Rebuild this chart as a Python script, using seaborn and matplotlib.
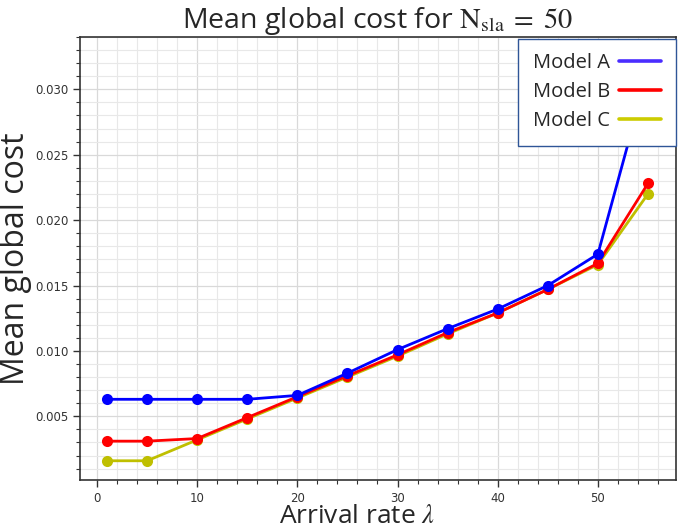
import pandas as pd
import matplotlib
matplotlib.use('Agg')
import matplotlib.pyplot as plt
import seaborn as sns
from matplotlib.lines import Line2D
from matplotlib.ticker import MultipleLocator

# Data
arrival = [1, 5, 10, 15, 20, 25, 30, 35, 40, 45, 50, 55]
model_a = [0.0063, 0.0063, 0.0063, 0.0063, 0.0066, 0.0083, 0.0101, 0.0117, 0.0132, 0.0150, 0.0174, 0.0314]
model_b = [0.0031, 0.0031, 0.0033, 0.0049, 0.0065, 0.0081, 0.0097, 0.0114, 0.0129, 0.0147, 0.0167, 0.0228]
model_c = [0.0016, 0.0016, 0.0032, 0.0048, 0.0064, 0.0080, 0.0096, 0.0113, 0.0129, 0.0147, 0.0166, 0.0220]
models = ['Model A', 'Model B', 'Model C']

df = pd.concat([
    pd.DataFrame({'rate': arrival, 'cost': model_a, 'model': 'Model A'}),
    pd.DataFrame({'rate': arrival, 'cost': model_b, 'model': 'Model B'}),
    pd.DataFrame({'rate': arrival, 'cost': model_c, 'model': 'Model C'}),
])

line_colors = {'Model A': '#0000ff', 'Model B': '#ff0000', 'Model C': '#bfbf00'}
legend_colors = {'Model A': '#4a2dff', 'Model B': '#ff0000', 'Model C': '#cccc00'}

sns.set_style('white')
plt.rcParams['font.family'] = ['Open Sans', 'DejaVu Sans']
plt.rcParams['mathtext.fontset'] = 'stix'

fig = plt.figure(figsize=(6.79, 5.30), dpi=100)
ax = fig.add_axes([80 / 679, 1 - 480 / 530, 596 / 679, 443 / 530])

# draw C first so A ends up on top
sns.lineplot(data=df, x='rate', y='cost', hue='model', hue_order=['Model C', 'Model B', 'Model A'],
             palette=line_colors, marker='o', markersize=8, markeredgewidth=0,
             linewidth=2, legend=False, ax=ax)

ax.set_xlim(-1.7, 57.8)
ax.set_ylim(0.00013, 0.0340)
ax.xaxis.set_major_locator(MultipleLocator(10))
ax.xaxis.set_minor_locator(MultipleLocator(2))
ax.yaxis.set_major_locator(MultipleLocator(0.005))
ax.yaxis.set_minor_locator(MultipleLocator(0.001))
ax.grid(which='major', color='#d9d9d9', linewidth=0.9)
ax.grid(which='minor', color='#e8e8e8', linewidth=0.8)
ax.set_axisbelow(True)

for s in ax.spines.values():
    s.set_color('#333333')
    s.set_linewidth(1.2)
ax.tick_params(which='major', direction='out', length=5, width=1, color='#333333',
               labelsize=8.5, labelcolor='#333333', bottom=True, left=True)
ax.tick_params(which='minor', direction='out', length=3, width=0.8, color='#333333',
               bottom=True, left=True)
for lab in ax.get_xticklabels() + ax.get_yticklabels():
    lab.set_family('DejaVu Sans')

ax.set_title(r'Mean global cost for $\mathrm{N}_{\mathrm{sla}}\;=\;50$', fontsize=20.5, pad=6)
ax.set_xlabel(r'Arrival rate $\lambda$', fontsize=19)
ax.xaxis.label.set_va('bottom')
ax.xaxis.set_label_coords(0.465, -0.1095)
ax.set_ylabel('Mean global cost', fontsize=23, labelpad=2)

handles = [Line2D([0], [0], color=legend_colors[m], linewidth=2.6) for m in models]
leg = ax.legend(handles, models, loc='upper right', bbox_to_anchor=(1.0, 0.996),
                borderaxespad=0, fontsize=14.5, markerfirst=False, handlelength=2.1,
                handletextpad=0.45, labelspacing=0.45, borderpad=0.72,
                fancybox=False, framealpha=1)
leg.get_frame().set_edgecolor('#2f5597')
leg.get_frame().set_linewidth(1.0)

fig.savefig('out.png', dpi=100)
